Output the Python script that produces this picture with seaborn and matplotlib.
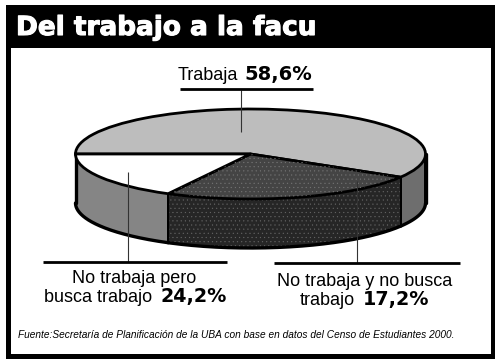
import numpy as np
import matplotlib
matplotlib.use('Agg')
import matplotlib.pyplot as plt
import matplotlib.patheffects as pe
from matplotlib.patches import Wedge
import seaborn as sns

title = 'Del trabajo a la facu'
source = 'Fuente:Secretaría de Planificación de la UBA con base en datos del Censo de Estudiantes 2000.'
slice_names = ['Trabaja', 'No trabaja pero busca trabajo', 'No trabaja y no busca trabajo']
slice_values = [58.6, 24.2, 17.2]
top_colors = ['#bdbdbd', '#444444', '#ffffff']
side_colors = ['#6e6e6e', '#262626', '#858585']

sns.set_theme(style='white')
plt.rcParams['font.family'] = ['Liberation Sans', 'DejaVu Sans']
plt.rcParams['hatch.linewidth'] = 0.3

W, H = 500, 364
fig = plt.figure(figsize=(W / 100, H / 100), dpi=100, facecolor='white')

# page axes in pixels, used for the frame and title
bg = fig.add_axes([0, 0, 1, 1])
bg.set_xlim(0, W)
bg.set_ylim(H, 0)
bg.axis('off')
bg.fill_between([6, 495], 5, 359, color='black', lw=0)
bg.fill_between([11, 491], 48, 354, color='white', lw=0)


def hline(x0, x1, y, lw=2.0):
    over.plot([x0, x1], [y, y], color='black', lw=lw, solid_capstyle='butt')


def vline(x, y0, y1):
    over.plot([x, x], [y0, y1], color='#333333', lw=0.8, solid_capstyle='butt')


bg.text(16, 28, title, color='white', fontsize=18.95, family='DejaVu Sans', fontweight='bold',
        va='center', ha='left', path_effects=[pe.withStroke(linewidth=0.8, foreground='white')])

# pie: axes box is the bounding box of the top ellipse
cx, cy, rx, ry = 250.5, 154, 175, 45
depth = 49 / ry
ax = fig.add_axes([(cx - rx) / W, 1 - (cy + ry) / H, 2 * rx / W, 2 * ry / H])
palette = sns.color_palette(top_colors)
wedges, _ = ax.pie(slice_values, colors=palette, startangle=180, counterclock=False, radius=1,
                   wedgeprops=dict(edgecolor='black', linewidth=2.0))
ax.set_aspect('auto')
ax.set_xlim(-1, 1)
ax.set_ylim(-1, 1)
for w in wedges:
    w.set_zorder(3)

# halftone dots on the dark slice
w = wedges[1]
ax.add_patch(Wedge((0, 0), 0.985, w.theta1, w.theta2, facecolor='none', edgecolor='#757575',
                   lw=0, hatch='....', zorder=3.5))

# side wall of every slice, only the part facing the viewer
edges = 180 - 3.6 * np.cumsum([0] + slice_values)
for i in range(len(slice_values)):
    t = np.radians(np.linspace(edges[i], edges[i + 1], 300))
    t = t[np.sin(t) <= 0]
    ax.fill_between(np.cos(t), np.sin(t), np.sin(t) - depth, color=side_colors[i], lw=0,
                    clip_on=False, zorder=1)
    if i == 1:
        ax.fill_between(np.cos(t), np.sin(t), np.sin(t) - depth, facecolor='none',
                        edgecolor='#666666', lw=0, hatch='....', clip_on=False, zorder=1.2)
    ax.plot(np.cos(t), np.sin(t) - depth, color='black', lw=2.4, clip_on=False, zorder=2)
    for a in t[[0, -1]]:
        ax.plot([np.cos(a)] * 2, [np.sin(a), np.sin(a) - depth], color='black', lw=1.4,
                clip_on=False, zorder=2)
# outer edges of the wall
for s in [-1, 1]:
    ax.plot([s, s], [0, -depth], color='black', lw=2.4, clip_on=False, zorder=2)
ax.patch.set_alpha(0)
ax.axis('off')

# second page axes above the pie for leader lines, rules and labels
over = fig.add_axes([0, 0, 1, 1])
over.set_xlim(0, W)
over.set_ylim(H, 0)
over.axis('off')

vline(241, 90, 132)
hline(180, 313, 89)
vline(127.5, 172, 262)
hline(43, 227, 262)
vline(357, 181, 263)
hline(274, 460, 263)

num = dict(family='DejaVu Sans', fontweight='bold', color='black', va='baseline', ha='left')
txt = dict(color='black', va='baseline', fontsize=13)
over.text(178, 80, 'Trabaja', ha='left', **txt)
over.text(244, 80, '58,6%', fontsize=14, **num)
over.text(134.5, 283, 'No trabaja pero', ha='center', **txt)
over.text(44, 302, 'busca trabajo', ha='left', **txt)
over.text(160, 302, '24,2%', fontsize=13.8, **num)
over.text(365, 286, 'No trabaja y no busca', ha='center', **txt)
over.text(300, 305, 'trabajo', ha='left', **txt)
over.text(363, 305, '17,2%', fontsize=13.8, **num)
over.text(18, 338, source, color='black', fontsize=7.27, style='italic', ha='left', va='baseline')

fig.savefig('out.png', dpi=100, facecolor='white')
